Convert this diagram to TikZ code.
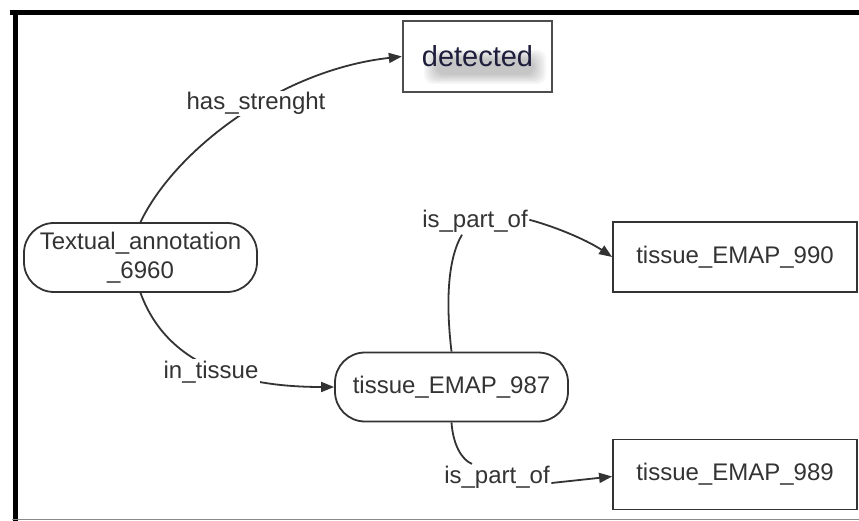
\documentclass[tikz,border=0pt]{standalone}
\usepackage{fontspec}
\setmainfont{Liberation Sans}
\usetikzlibrary{arrows.meta}
\definecolor{ink}{HTML}{333333}
\definecolor{framegray}{HTML}{8A8A8A}
\definecolor{detink}{HTML}{1E1E3C}
\definecolor{detborder}{HTML}{4D4D4D}
\tikzset{
  labelfont/.style={font=\fontsize{24}{29}\selectfont},
  conceptbox/.style={draw=ink, line width=1.8pt, rounded corners=30pt,
    minimum width=233pt, minimum height=69pt, inner sep=0pt,
    text=ink, labelfont, align=center},
  termbox/.style={draw=ink, line width=1.8pt, minimum width=244pt,
    minimum height=70pt, inner sep=0pt, text=ink, labelfont},
  detbox/.style={draw=detborder, line width=2.4pt, minimum width=149pt,
    minimum height=71pt, inner sep=0pt, text=detink,
    font=\fontsize{29}{34}\selectfont},
  haze/.style={fill=black, opacity=0.035},
  relline/.style={draw=ink, line width=1.8pt},
  rel/.style={relline, -{Triangle[length=13pt,width=10pt]}},
  rellabel/.style={fill=white, inner sep=1.5pt, text=ink, labelfont, anchor=base}
}
\begin{document}
\begin{tikzpicture}[x=1pt,y=-1pt]
\useasboundingbox (0,0) rectangle (859,521);

% outer frame
\draw[line width=4.5pt, black] (10,12.5) -- (859,12.5);
\draw[line width=5pt, black] (15,10) -- (15,521);
\draw[line width=1.5pt, framegray] (12,519.5) -- (859,519.5);

% soft haze under the "detected" text
\foreach \i in {0,...,6}
  \fill[haze, rounded corners=9pt] (424+2*\i,50+1.5*\i) rectangle (546-2*\i,84-1.5*\i);

% nodes
\node[detbox] (det) at (477.5,56.5) {detected};
\node[conceptbox] (ta) at (140.5,257.5) {Textual\_annotation\\\_6960};
\node[conceptbox] (t987) at (451.5,387) {tissue\_EMAP\_987};
\node[termbox] (t990) at (735,257) {tissue\_EMAP\_990};
\node[termbox] (t989) at (735,474.5) {tissue\_EMAP\_989};

% has_strenght
\draw[rel] (ta.north) .. controls (175,150) and (280,70) .. (det.west);
\node[rellabel] (lhs) at (256,110) {has\_strenght};

% in_tissue
\draw[rel] (ta.south) .. controls (165,360) and (230,387) .. (t987.west);
\node[rellabel] (lit) at (211,378) {in\_tissue};

% is_part_of (upper)
\node[rellabel] (lp1) at (475,228) {is\_part\_of};
\draw[relline] (t987.north) .. controls (446,305) and (447,260) .. ([xshift=-13pt]lp1.south);
\draw[rel] ([yshift=2pt]lp1.east) .. controls (560,228) and (590,242) .. (t990.west);

% is_part_of (lower)
\node[rellabel] (lp2) at (497,483) {is\_part\_of};
\draw[relline] (t987.south) .. controls (453,445) and (462,460) .. ([xshift=-25pt]lp2.north);
\draw[rel] (lp2.base east) -- ([yshift=-2pt]t989.west);
\end{tikzpicture}
\end{document}
